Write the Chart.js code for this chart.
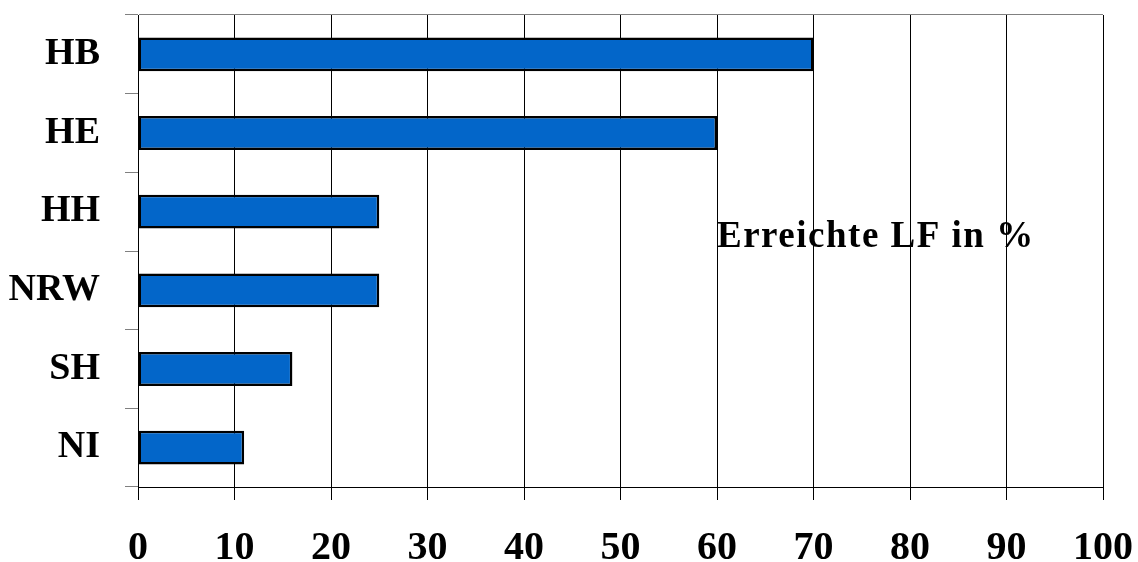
<!DOCTYPE html>
<html>
<head>
<meta charset="utf-8">
<script src="https://cdn.jsdelivr.net/npm/chart.js@4"></script>
<style>
  html, body { margin: 0; padding: 0; background: #fff; }
  #wrap { width: 1138px; height: 562px; }
</style>
</head>
<body>
<div id="wrap"><canvas id="c" width="1138" height="562"></canvas></div>
<script>
// Länder and reached share (%)
const categories = ['HB', 'HE', 'HH', 'NRW', 'SH', 'NI'];
const values = [70, 60, 25, 25, 16, 11];
const xTicks = [0, 10, 20, 30, 40, 50, 60, 70, 80, 90, 100];
const noteText = 'Erreichte LF in %';

const serif = '"Liberation Serif", "Times New Roman", serif';

// Caption inside the plot area
const notePlugin = {
  id: 'note',
  afterDatasetsDraw(chart) {
    const { ctx, scales } = chart;
    ctx.save();
    ctx.font = 'bold 37px ' + serif;
    if ('letterSpacing' in ctx) ctx.letterSpacing = '1.5px';
    ctx.fillStyle = '#000';
    ctx.textAlign = 'left';
    ctx.textBaseline = 'alphabetic';
    ctx.fillText(noteText, scales.x.getPixelForValue(60.0), scales.y.getPixelForValue(2.45));
    ctx.restore();
  }
};

new Chart(document.getElementById('c'), {
  type: 'bar',
  data: {
    labels: categories,
    datasets: [{
      data: values,
      backgroundColor: '#0366C9',
      borderColor: '#000',
      borderWidth: 2.5,
      borderSkipped: false,
      barPercentage: 0.43,
      categoryPercentage: 1
    }]
  },
  options: {
    indexAxis: 'y',
    responsive: false,
    animation: false,
    devicePixelRatio: 1,
    layout: { padding: { top: 15, right: 35, left: 0, bottom: 0 } },
    plugins: { legend: { display: false }, tooltip: { enabled: false } },
    scales: {
      x: {
        min: 0,
        max: 100,
        afterBuildTicks(scale) { scale.ticks = xTicks.map(v => ({ value: v })); },
        afterFit(scale) {
          scale.height = 75;
          scale.paddingLeft = 0;
          scale.paddingRight = 0;
        },
        grid: {
          color: '#000',
          lineWidth: 1,
          tickLength: 13,
          tickColor: '#000'
        },
        border: { color: '#000', width: 1 },
        ticks: {
          color: '#000',
          padding: 25,
          maxRotation: 0,
          autoSkip: false,
          font: { family: serif, size: 40, weight: 'bold' }
        }
      },
      y: {
        afterFit(scale) {
          scale.width = 138;
          scale.paddingTop = 0;
          scale.paddingBottom = 0;
        },
        grid: {
          offset: true,
          drawOnChartArea: true,
          color: ctx => ctx.index === 0 ? '#808080' : 'rgba(0,0,0,0)',
          tickColor: '#808080',
          tickLength: 13,
          lineWidth: 1
        },
        border: { color: '#000', width: 1 },
        ticks: {
          color: '#000',
          padding: 25,
          autoSkip: false,
          font: { family: serif, size: 38, weight: 'bold' }
        }
      }
    }
  },
  plugins: [notePlugin]
});
</script>
</body>
</html>
